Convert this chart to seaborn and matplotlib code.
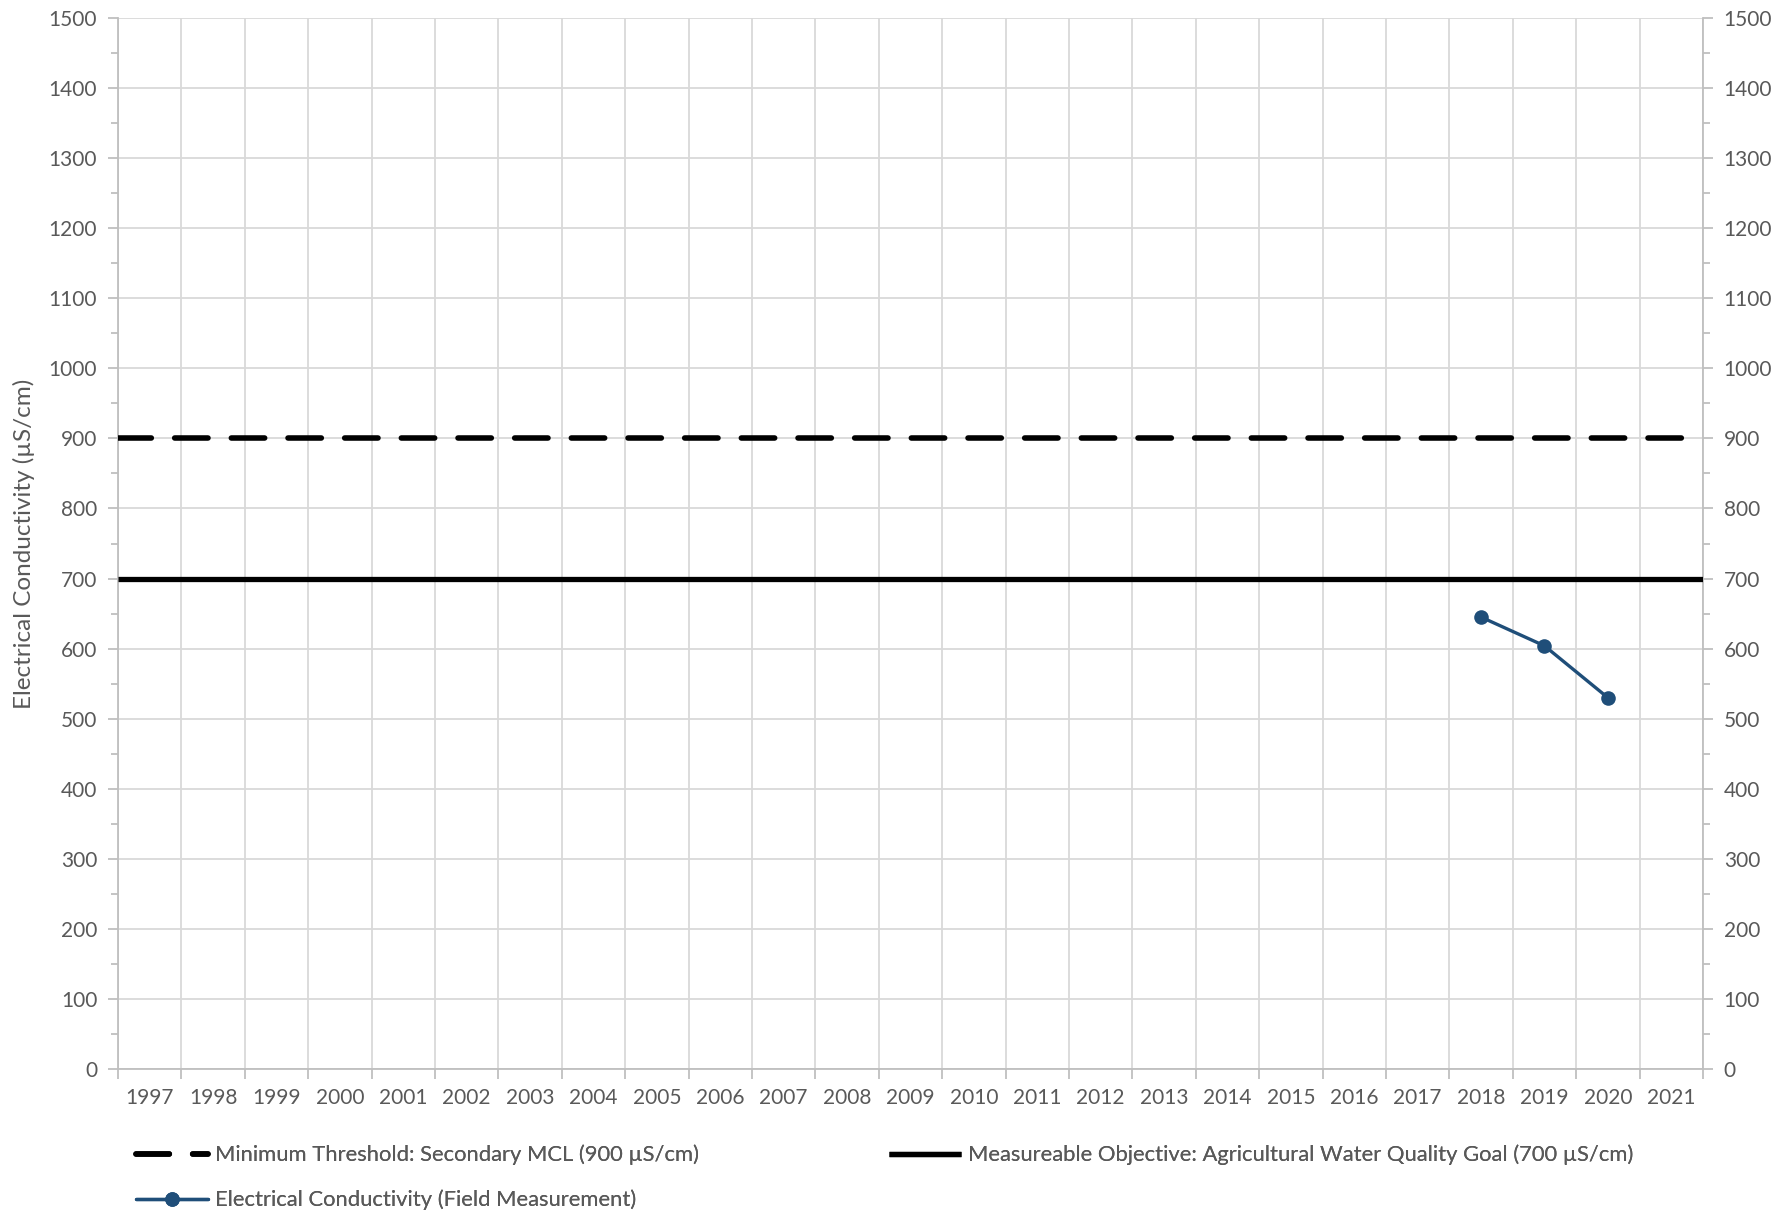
import numpy as np
import pandas as pd
import matplotlib
matplotlib.use("Agg")
import matplotlib.pyplot as plt
import seaborn as sns
from matplotlib.ticker import MultipleLocator, FixedLocator

# chart data
years = list(range(1997, 2022))
ec_years = [2018, 2019, 2020]
ec_values = [645, 604, 530]
min_threshold = 900
measurable_objective = 700

label_min = "Minimum Threshold: Secondary MCL (900 µS/cm)"
label_mo = "Measureable Objective: Agricultural Water Quality Goal (700 µS/cm)"
label_ec = "Electrical Conductivity (Field Measurement)"

sns.set_theme(style="white")
plt.rcParams['font.family'] = ['Lato', 'DejaVu Sans']

text_color = "#595959"
grid_color = "#D9D9D9"
spine_color = "#BFBFBF"
ec_color = "#1F4E79"

W, H = 1780, 1214
fig = plt.figure(figsize=(W / 100, H / 100), dpi=100)
ax = fig.add_axes([0.0663, 0.1194, 0.8904, 0.8658])

df = pd.DataFrame({"Year": ec_years, "EC": ec_values})

ax.axhline(min_threshold, color="black", lw=4, dashes=(6, 4.2),
           dash_capstyle="round", label=label_min, zorder=3)
ax.axhline(measurable_objective, color="black", lw=3.8,
           solid_capstyle="butt", label=label_mo, zorder=3)
sns.lineplot(data=df, x="Year", y="EC", ax=ax, color=ec_color, lw=2.4,
             marker="o", markersize=10.5, markeredgewidth=0, label=label_ec,
             zorder=4)

ax.set_xlim(years[0] - 0.5, years[-1] + 0.5)
ax.set_ylim(0, 1500)

# x: labels at category centres, tick marks / grid at boundaries
ax.xaxis.set_major_locator(FixedLocator(years))
ax.set_xticklabels([str(y) for y in years])
ax.xaxis.set_minor_locator(FixedLocator(np.arange(years[0] - 0.5, years[-1] + 1.0, 1.0)))
ax.tick_params(axis="x", which="major", length=0, pad=14, labelsize=15, labelcolor=text_color)
ax.tick_params(axis="x", which="minor", length=7, width=1.3, color=spine_color, direction="out", bottom=True)
ax.grid(False)
ax.grid(True, axis="x", which="minor", color=grid_color, lw=1.3)

ax.yaxis.set_major_locator(MultipleLocator(100))
ax.yaxis.set_minor_locator(MultipleLocator(50))
ax.grid(True, axis="y", which="major", color=grid_color, lw=1.3)
ax.tick_params(axis="y", which="major", length=7, width=1.3, color=spine_color,
               direction="out", left=True, right=True, labelleft=True,
               labelright=True, labelsize=15, labelcolor=text_color, pad=8)
ax.tick_params(axis="y", which="minor", length=5, width=1.3, color=spine_color,
               direction="out", left=True, right=True)

for side in ["left", "right", "bottom"]:
    ax.spines[side].set_color(spine_color)
    ax.spines[side].set_linewidth(1.3)
ax.spines["top"].set_visible(False)

ax.set_xlabel("")
ax.set_ylabel("Electrical Conductivity (µS/cm)", fontsize=17.5, color=text_color)
ax.yaxis.set_label_coords((35 - 118) / (0.8904 * W), 0.5)

if ax.get_legend() is not None:
    ax.get_legend().remove()
handles, labels = ax.get_legend_handles_labels()
hmap = dict(zip(labels, handles))

legend_kw = dict(loc="center left", frameon=False, fontsize=15.8,
                 labelcolor=text_color, handlelength=3.3, handletextpad=0.3,
                 borderpad=0, borderaxespad=0)
for lab, (px, py) in [(label_min, (136, 1155)), (label_mo, (889, 1155)),
                      (label_ec, (136, 1200))]:
    leg = fig.legend([hmap[lab]], [lab], bbox_to_anchor=(px / W, 1 - py / H),
                     **legend_kw)
    fig.add_artist(leg)

fig.savefig("out.png", dpi=100)
